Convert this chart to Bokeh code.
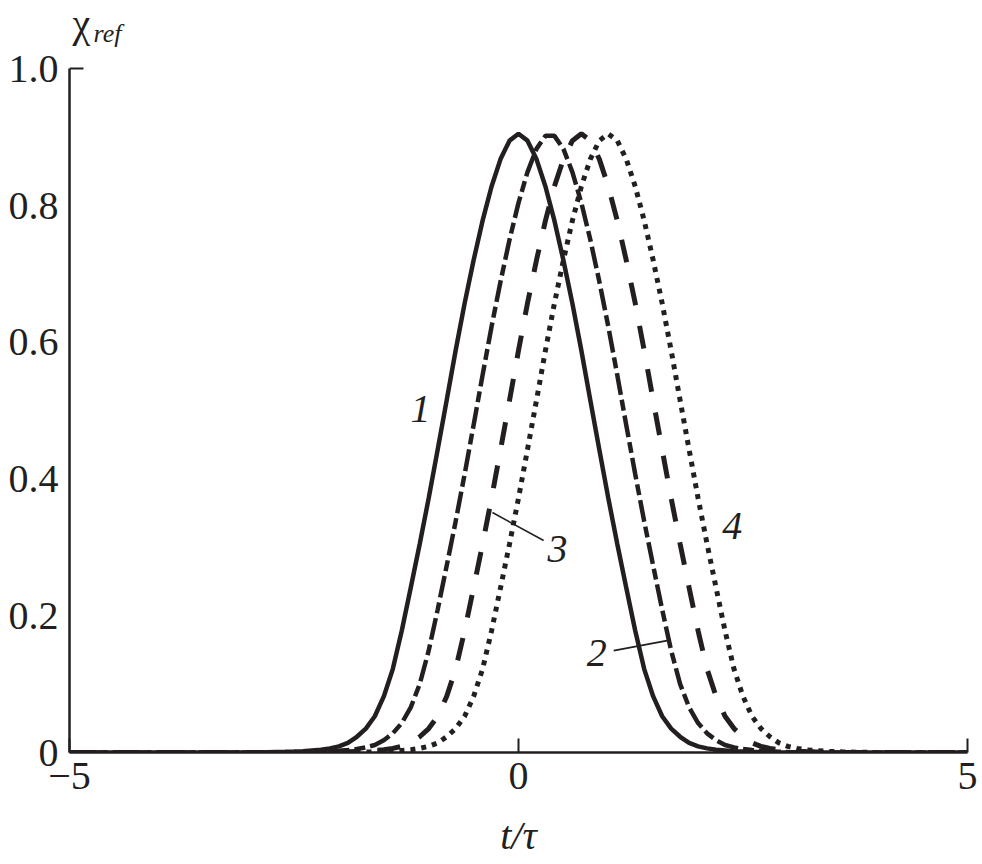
from bokeh.plotting import figure
from bokeh.models import LinearAxis, FixedTicker, Label, Range1d, ColumnDataSource
from bokeh.core.properties import value
from bokeh.embed import file_html
from bokeh.resources import INLINE

# ---- data ----
T = [-5.0, -4.0, -3.0, -2.8, -2.7,
     -2.6, -2.5, -2.4, -2.3, -2.2, -2.1, -2.0, -1.9, -1.8, -1.7,
     -1.6, -1.5, -1.4, -1.3, -1.2, -1.1, -1.0, -0.9, -0.8, -0.7,
     -0.6, -0.5, -0.4, -0.3, -0.2, -0.1, 0.0, 0.1, 0.2, 0.3,
     0.4, 0.5, 0.6, 0.7, 0.8, 0.9, 1.0, 1.1, 1.2, 1.3,
     1.4, 1.5, 1.6, 1.7, 1.8, 1.9, 2.0, 2.1, 2.2, 2.3,
     2.4, 2.5, 2.6, 2.7, 2.8, 2.9, 3.0, 3.1, 3.2, 3.3,
     3.4, 3.5, 3.6, 3.7, 3.8, 3.9, 4.0,
     4.2, 4.5, 5.0]

Y1 = [0, 0, 0.0001, 0.0004, 0.0007,
      0.001, 0.0014, 0.002, 0.003, 0.004, 0.006, 0.009, 0.014, 0.023, 0.035,
      0.053, 0.082, 0.122, 0.178, 0.241, 0.305, 0.372, 0.443, 0.515, 0.588,
      0.657, 0.720, 0.778, 0.828, 0.868, 0.895, 0.905, 0.895, 0.868, 0.828,
      0.778, 0.720, 0.657, 0.588, 0.515, 0.443, 0.372, 0.305, 0.241, 0.178,
      0.122, 0.082, 0.053, 0.035, 0.023, 0.014, 0.009, 0.006, 0.004, 0.003,
      0.002, 0.0014, 0.001, 0.0007, 0.0004, 0.0002, 0.0001, 0, 0, 0,
      0, 0, 0, 0, 0, 0, 0,
      0, 0, 0]

Y2 = [0, 0, 0, 0, 0,
      0.0002, 0.0003, 0.0005, 0.0008, 0.0012, 0.0017, 0.0025, 0.0035, 0.005, 0.0075,
      0.011, 0.018, 0.028, 0.043, 0.066, 0.100, 0.149, 0.209, 0.273, 0.338,
      0.407, 0.479, 0.552, 0.623, 0.689, 0.750, 0.804, 0.849, 0.883, 0.902,
      0.902, 0.883, 0.849, 0.804, 0.750, 0.689, 0.623, 0.552, 0.479, 0.407,
      0.338, 0.273, 0.209, 0.149, 0.100, 0.066, 0.043, 0.028, 0.018, 0.011,
      0.0075, 0.005, 0.0035, 0.0025, 0.0017, 0.0012, 0.0008, 0.0005, 0.0003, 0.0002,
      0, 0, 0, 0, 0, 0, 0,
      0, 0, 0]

Y3 = [0, 0, 0, 0, 0,
      0, 0, 0, 0.0001, 0.0002, 0.0004, 0.0007, 0.001, 0.0014, 0.002,
      0.003, 0.004, 0.006, 0.009, 0.014, 0.023, 0.035, 0.053, 0.082, 0.122,
      0.178, 0.241, 0.305, 0.372, 0.443, 0.515, 0.588, 0.657, 0.720, 0.778,
      0.828, 0.868, 0.895, 0.905, 0.895, 0.868, 0.828, 0.778, 0.720, 0.657,
      0.588, 0.515, 0.443, 0.372, 0.305, 0.241, 0.178, 0.122, 0.082, 0.053,
      0.035, 0.023, 0.014, 0.009, 0.006, 0.004, 0.003, 0.002, 0.0014, 0.001,
      0.0007, 0.0004, 0.0002, 0.0001, 0, 0, 0,
      0, 0, 0]

Y4 = [0, 0, 0, 0, 0,
      0, 0, 0, 0, 0, 0, 0.0001, 0.0002, 0.0004, 0.0007,
      0.001, 0.0014, 0.002, 0.003, 0.004, 0.006, 0.009, 0.014, 0.023, 0.035,
      0.053, 0.082, 0.122, 0.178, 0.241, 0.305, 0.372, 0.443, 0.515, 0.588,
      0.657, 0.720, 0.778, 0.828, 0.868, 0.895, 0.905, 0.895, 0.868, 0.828,
      0.778, 0.720, 0.657, 0.588, 0.515, 0.443, 0.372, 0.305, 0.241, 0.178,
      0.122, 0.082, 0.053, 0.035, 0.023, 0.014, 0.009, 0.006, 0.004, 0.003,
      0.002, 0.0014, 0.001, 0.0007, 0.0004, 0.0002, 0.0001,
      0, 0, 0]

X_TICKS = [-5, 0, 5]
X_TICK_LABELS = {-5: "\u22125", 0: "0", 5: "5"}
Y_TICKS = [0, 0.2, 0.4, 0.6, 0.8, 1.0]
Y_TICK_LABELS = {0: "0", 0.2: "0.2", 0.4: "0.4", 0.6: "0.6", 0.8: "0.8", 1.0: "1.0"}
X_LABEL = "t/\u03c4"
Y_LABEL_MAIN = "\u03c7"
Y_LABEL_SUB = "ref"

CURVE_NAMES = ["1", "2", "3", "4"]
NAME_X = [-1.09, 0.87, 0.434, 2.38]
NAME_Y = [0.503, 0.146, 0.298, 0.332]
LEAD_X0 = [1.06, 0.28]
LEAD_Y0 = [0.149, 0.31]
LEAD_X1 = [1.67, -0.29]
LEAD_Y1 = [0.164, 0.351]

INK = "#231f20"
FONT = "Liberation Serif"

# y range runs a little above 1.0 so that the axis title sits inside the frame;
# the y axis line itself is bounded to [0, 1]
p = figure(width=978, height=864, output_backend="svg", toolbar_location=None,
           x_range=Range1d(-5, 5), y_range=Range1d(0, 1.1),
           x_axis_location=None, y_axis_location=None,
           min_border_left=69, min_border_top=0, min_border_right=11, min_border_bottom=112)
p.outline_line_color = None
p.xgrid.visible = False
p.ygrid.visible = False
p.background_fill_color = "white"
p.border_fill_color = "white"

xa = LinearAxis(ticker=FixedTicker(ticks=X_TICKS), major_label_overrides=X_TICK_LABELS)
xa.axis_line_color = INK
xa.axis_line_width = 2.5
xa.major_tick_in = 14
xa.major_tick_out = 0
xa.major_tick_line_width = 2
xa.major_tick_line_color = INK
xa.minor_tick_line_color = None
xa.major_label_text_font = FONT
xa.major_label_text_font_size = "40px"
xa.major_label_text_color = INK
xa.major_label_standoff = 10
xa.axis_label = X_LABEL
xa.axis_label_text_font = FONT
xa.axis_label_text_font_style = "italic"
xa.axis_label_text_font_size = "40px"
xa.axis_label_text_color = INK
xa.axis_label_standoff = 21
p.add_layout(xa, "below")

ya = LinearAxis(ticker=FixedTicker(ticks=Y_TICKS), major_label_overrides=Y_TICK_LABELS,
                bounds=(Y_TICKS[0], Y_TICKS[-1]))
ya.axis_line_color = INK
ya.axis_line_width = 2.5
ya.major_tick_in = 0
ya.major_tick_out = 0
ya.minor_tick_line_color = None
ya.major_label_text_font = FONT
ya.major_label_text_font_size = "40px"
ya.major_label_text_color = INK
ya.major_label_standoff = 11
p.add_layout(ya, "left")

# the single inward tick at the top of the y axis
yt = LinearAxis(ticker=FixedTicker(ticks=[Y_TICKS[-1]]), fixed_location=X_TICKS[0])
yt.axis_line_color = None
yt.major_tick_in = 14
yt.major_tick_out = 0
yt.major_tick_line_width = 2
yt.major_tick_line_color = INK
yt.minor_tick_line_color = None
yt.major_label_text_color = None
yt.major_label_standoff = 0
p.add_layout(yt, "left")

src = ColumnDataSource(dict(t=T, y1=Y1, y2=Y2, y3=Y3, y4=Y4))
p.line("t", "y1", source=src, line_color=INK, line_width=4.5)
p.line("t", "y2", source=src, line_color=INK, line_width=4.5, line_dash="22 5 11 5")
p.line("t", "y3", source=src, line_color=INK, line_width=5, line_dash="23 21")
p.line("t", "y4", source=src, line_color=INK, line_width=5, line_dash="5 6")

p.segment(x0=LEAD_X0, y0=LEAD_Y0, x1=LEAD_X1, y1=LEAD_Y1, line_color=INK, line_width=1.6)
p.text(x=NAME_X, y=NAME_Y, text=CURVE_NAMES, text_font=value(FONT), text_font_style="italic",
       text_font_size="40px", text_color=INK, text_align="center", text_baseline="middle")

p.add_layout(Label(x=-5, y=1.0, x_units="data", y_units="data", x_offset=3, y_offset=45,
                   text=Y_LABEL_MAIN, text_font=FONT, text_font_size="40px", text_color=INK,
                   text_align="left", text_baseline="alphabetic"))
p.add_layout(Label(x=-5, y=1.0, x_units="data", y_units="data", x_offset=24, y_offset=35,
                   text=Y_LABEL_SUB, text_font=FONT, text_font_style="italic", text_font_size="26px",
                   text_color=INK, text_align="left", text_baseline="alphabetic"))

open("out.html", "w").write(file_html(p, INLINE))
